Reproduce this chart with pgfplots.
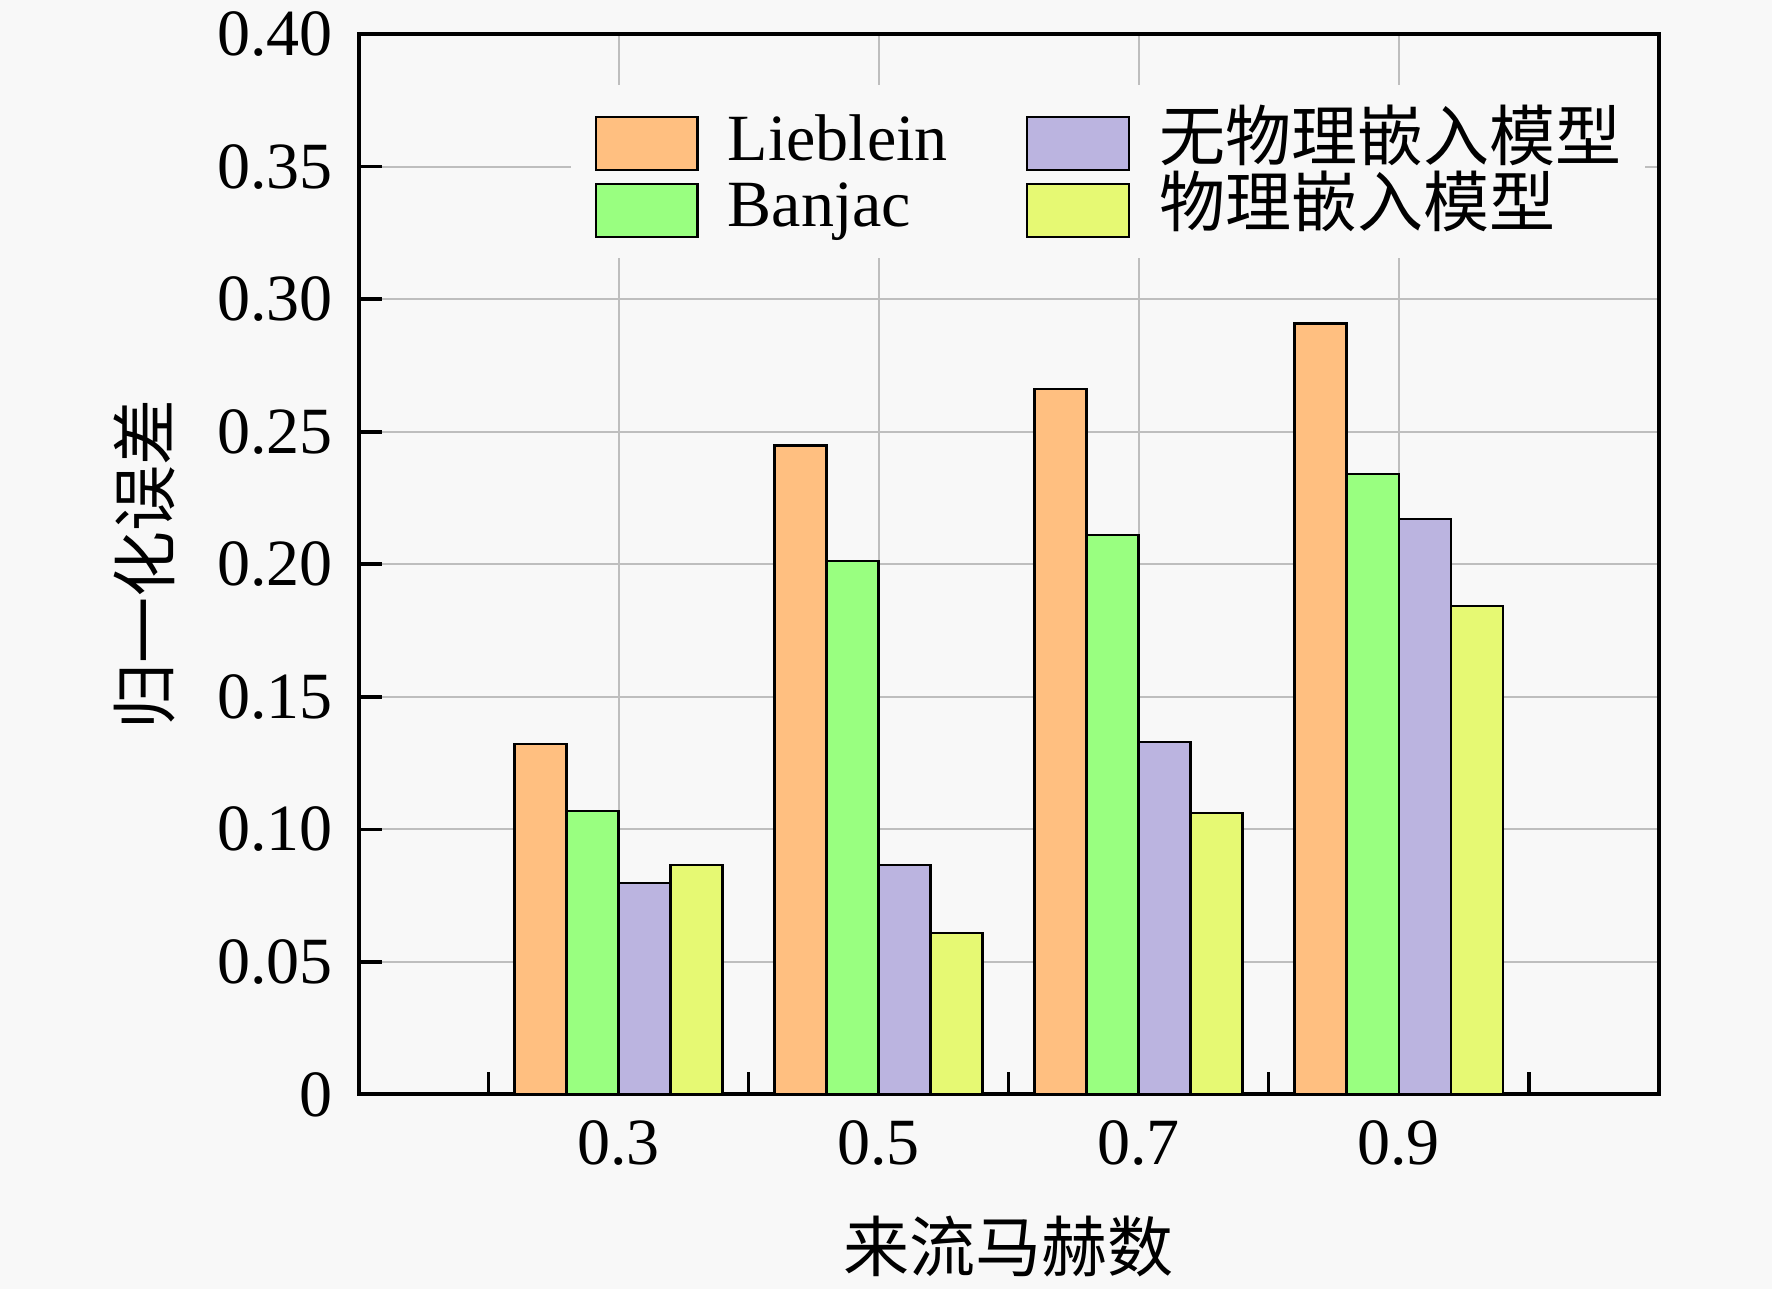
\documentclass[border=0pt]{standalone}
\usepackage{pgfplots}
\pgfplotsset{compat=1.18}
\usepackage{fontspec}
\setmainfont{Liberation Serif}
\newfontfamily\cjk{Noto Sans CJK SC}
\usetikzlibrary{backgrounds}
\definecolor{bg}{RGB}{248,248,248}
\definecolor{cOrange}{RGB}{255,191,128}
\definecolor{cGreen}{RGB}{153,255,128}
\definecolor{cPurple}{RGB}{187,180,224}
\definecolor{cYellow}{RGB}{230,249,115}
\definecolor{gridc}{RGB}{190,190,190}
\newcommand{\fs}{\fontsize{16.5}{19}\selectfont}
\begin{document}
\begin{tikzpicture}[background rectangle/.style={fill=bg}, show background rectangle, inner frame sep=0pt]
\path[use as bounding box] (-89.6pt,-48.5pt) rectangle (353.2pt,273.5pt);
\begin{axis}[
  at={(0,0)}, anchor=south west,
  scale only axis, width=324.9pt, height=265pt,
  xmin=0.1, xmax=1.1, ymin=0, ymax=0.40,
  xtick={0.3,0.5,0.7,0.9}, xticklabels={0.3,0.5,0.7,0.9},
  minor xtick={0.2,0.4,0.6,0.8,1.0},
  ytick={0,0.05,0.10,0.15,0.20,0.25,0.30,0.35,0.40},
  yticklabels={0,0.05,0.10,0.15,0.20,0.25,0.30,0.35,0.40},
  xtick pos=bottom, ytick pos=left, tick align=inside,
  major tick length=5.8pt, minor tick length=5.6pt,
  tick style={black, line width=0.9pt},
  axis line style={black, line width=1pt},
  grid=major, major grid style={gridc, line width=0.5pt},
  axis background/.style={fill=bg},
  tick label style={font=\fs},
  y tick label style={inner sep=0pt, xshift=-6.2pt},
  x tick label style={inner sep=0pt, yshift=-6.2pt},
  every axis x label/.style={at={(axis description cs:0.5,-0.1434)}, anchor=center},
  every axis y label/.style={at={(axis description cs:-0.1644,0.5)}, anchor=center, rotate=90},
  label style={font=\fs\cjk},
  xlabel={来流马赫数}, ylabel={归一化误差},
  legend columns=2, transpose legend,
  legend style={at={(axis description cs:0.1625,0.953)}, anchor=north west,
    draw=none, fill=bg, inner xsep=6pt, inner ysep=5pt, font=\fs,
    nodes={inner sep=0pt, anchor=base west},
    row sep=0pt,
    /tikz/every odd column/.append style={column sep=7.3pt},
    /tikz/every even column/.append style={column sep=19.5pt}},
  legend image code/.code={\draw[#1, line width=0.6pt] (0pt,-2.5pt) rectangle (25.4pt,10.8pt);},
  every axis plot/.append style={ybar, bar width=0.04, draw=black, line width=0.6pt},
]
\addplot[fill=cOrange, bar shift=-0.06] coordinates {(0.3,0.1322) (0.5,0.2448) (0.7,0.2661) (0.9,0.2908)};
\addplot[fill=cGreen, bar shift=-0.02] coordinates {(0.3,0.1070) (0.5,0.2013) (0.7,0.2111) (0.9,0.2341)};
\addplot[fill=cPurple, bar shift=0.02] coordinates {(0.3,0.0797) (0.5,0.0866) (0.7,0.1330) (0.9,0.2171)};
\addplot[fill=cYellow, bar shift=0.06] coordinates {(0.3,0.0866) (0.5,0.0610) (0.7,0.1062) (0.9,0.1842)};
\legend{Lieblein, Banjac, {\cjk 无物理嵌入模型}, {\cjk 物理嵌入模型}}
\end{axis}
\end{tikzpicture}
\end{document}
